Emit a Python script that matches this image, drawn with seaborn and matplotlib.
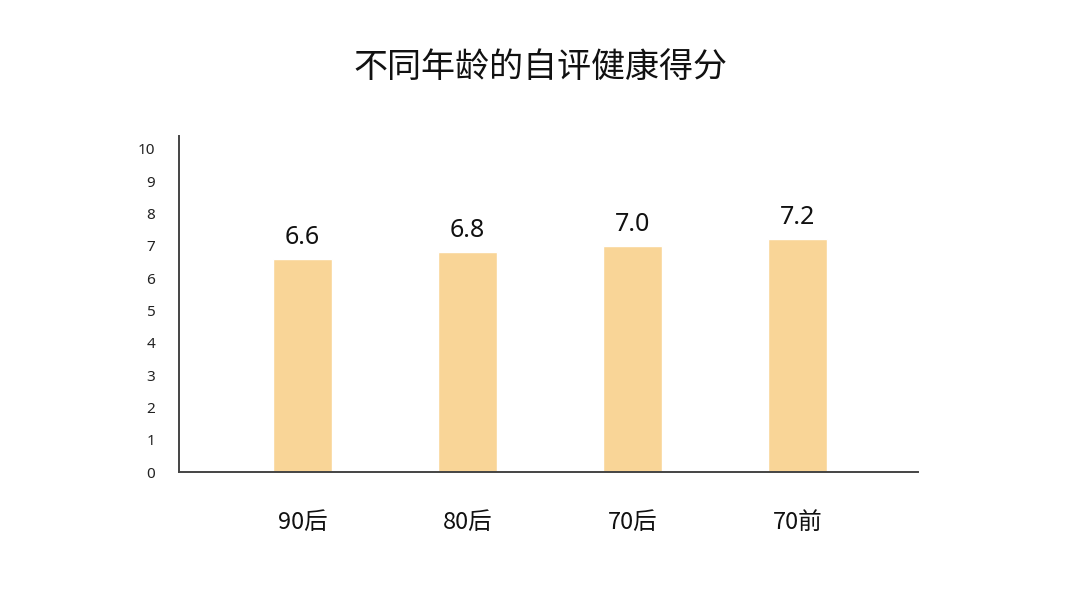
import matplotlib
matplotlib.use("Agg")
import matplotlib.pyplot as plt
import seaborn as sns
import pandas as pd

categories = ["90后", "80后", "70后", "70前"]
scores = [6.6, 6.8, 7.0, 7.2]
score_labels = ["6.6", "6.8", "7.0", "7.2"]
ytick_values = list(range(0, 11))

sns.set_theme(style="white")
plt.rcParams['font.family'] = ['Noto Sans CJK SC', 'DejaVu Sans']

df = pd.DataFrame({"group": categories, "score": scores})

fig = plt.figure(figsize=(10.8, 5.96), dpi=100)
ax = fig.add_axes([0.1657, 0.208, 0.8500 - 0.1657, 0.772 - 0.208])

sns.barplot(data=df, x="group", y="score", color="#F9D597", width=0.36,
            saturation=1, ax=ax, order=categories)

ax.set_xlim(-0.75, 3.73)
ax.set_ylim(0, 10.4)
ax.set_yticks(ytick_values)
ax.set_yticklabels([str(v) for v in ytick_values], fontsize=11,
                   color="#222222", family=['Noto Sans', 'DejaVu Sans'])
ax.tick_params(axis='y', length=0, pad=17)
ax.tick_params(axis='x', length=0, pad=28, labelsize=17, labelcolor="#111111")
ax.set_xlabel("")
ax.set_ylabel("")

for s in ["top", "right"]:
    ax.spines[s].set_visible(False)
for s in ["left", "bottom"]:
    ax.spines[s].set_color("#444444")
    ax.spines[s].set_linewidth(1.4)

for i, (v, lab) in enumerate(zip(scores, score_labels)):
    ax.text(i, v + 0.28, lab, ha="center", va="bottom", fontsize=18,
            color="#111111", family=['Noto Sans', 'DejaVu Sans'])

fig.text(0.5, 0.886, "不同年龄的自评健康得分", ha="center", va="center",
         fontsize=24.5, fontweight="medium", color="#111111")

fig.savefig("out.png", dpi=100, facecolor="white")
